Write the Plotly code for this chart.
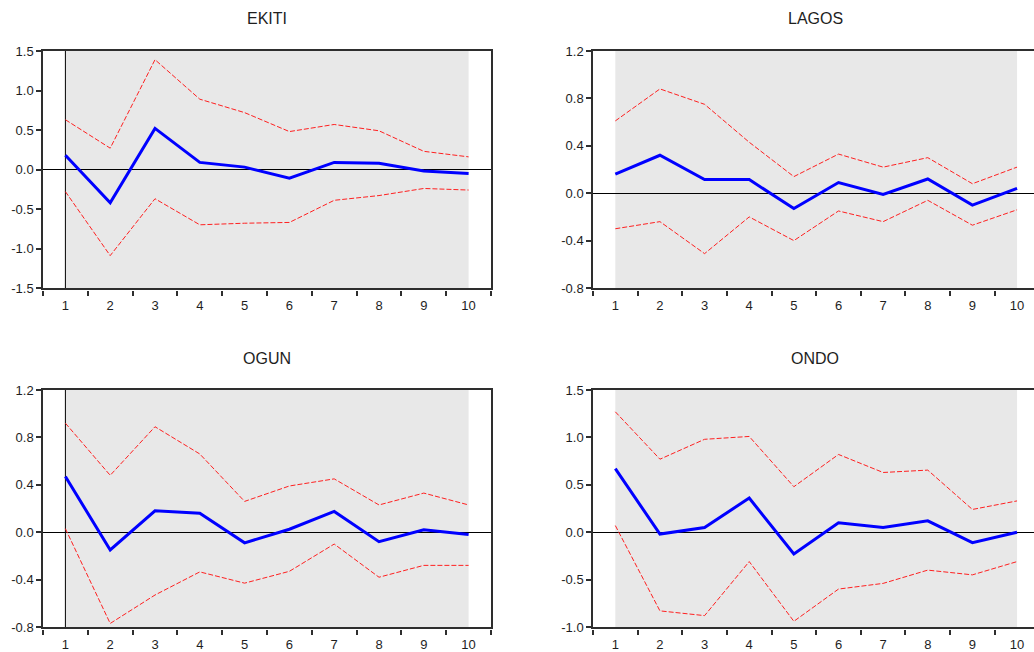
import plotly.graph_objects as go

periods = [1, 2, 3, 4, 5, 6, 7, 8, 9, 10]
panel_titles = ["EKITI", "LAGOS", "OGUN", "ONDO"]

ekiti_resp = [0.18, -0.42, 0.52, 0.09, 0.03, -0.11, 0.09, 0.08, -0.02, -0.05]
ekiti_upper = [0.63, 0.27, 1.39, 0.89, 0.72, 0.48, 0.57, 0.49, 0.23, 0.16]
ekiti_lower = [-0.28, -1.09, -0.37, -0.70, -0.68, -0.67, -0.39, -0.33, -0.24, -0.26]

lagos_resp = [0.16, 0.32, 0.115, 0.115, -0.13, 0.09, -0.01, 0.12, -0.10, 0.04]
lagos_upper = [0.61, 0.88, 0.75, 0.43, 0.14, 0.33, 0.22, 0.30, 0.08, 0.22]
lagos_lower = [-0.30, -0.24, -0.51, -0.20, -0.40, -0.15, -0.24, -0.06, -0.27, -0.14]

ogun_resp = [0.47, -0.15, 0.18, 0.16, -0.09, 0.025, 0.175, -0.08, 0.02, -0.02]
ogun_upper = [0.92, 0.48, 0.89, 0.66, 0.26, 0.39, 0.45, 0.23, 0.33, 0.23]
ogun_lower = [0.03, -0.77, -0.53, -0.335, -0.43, -0.33, -0.10, -0.38, -0.28, -0.28]

ondo_resp = [0.67, -0.02, 0.05, 0.36, -0.23, 0.10, 0.05, 0.12, -0.11, 0.0]
ondo_upper = [1.27, 0.77, 0.98, 1.01, 0.48, 0.82, 0.63, 0.655, 0.24, 0.33]
ondo_lower = [0.07, -0.83, -0.88, -0.31, -0.94, -0.60, -0.54, -0.40, -0.45, -0.31]

ekiti_yticks = [-1.5, -1.0, -0.5, 0.0, 0.5, 1.0, 1.5]
lagos_yticks = [-0.8, -0.4, 0.0, 0.4, 0.8, 1.2]
ogun_yticks = [-0.8, -0.4, 0.0, 0.4, 0.8, 1.2]
ondo_yticks = [-1.0, -0.5, 0.0, 0.5, 1.0, 1.5]

W, H = 1034, 652

def px(x):
    return x / W

def py(y):
    return 1 - y / H

panels = [
    dict(title=panel_titles[0], resp=ekiti_resp, up=ekiti_upper, lo=ekiti_lower, yt=ekiti_yticks,
         xd=[px(43), px(491)], yb=288, yt_px=51, xr=[0.5, 10.5], vline=True, ty=19),
    dict(title=panel_titles[1], resp=lagos_resp, up=lagos_upper, lo=lagos_lower, yt=lagos_yticks,
         xd=[px(593), 1.0], yb=288, yt_px=51, xr=[0.5, 10.38], vline=False, ty=19),
    dict(title=panel_titles[2], resp=ogun_resp, up=ogun_upper, lo=ogun_lower, yt=ogun_yticks,
         xd=[px(43), px(491)], yb=627, yt_px=390, xr=[0.5, 10.5], vline=True, ty=358),
    dict(title=panel_titles[3], resp=ondo_resp, up=ondo_upper, lo=ondo_lower, yt=ondo_yticks,
         xd=[px(593), 1.0], yb=627, yt_px=390, xr=[0.5, 10.38], vline=False, ty=358),
]

fig = go.Figure()
shapes = []
annotations = []
layout_axes = {}
frame_color = "#2e2e2e"
text_color = "#1e1e1e"
font_family = "Liberation Sans, Arial"
half_ticks = [k + 0.5 for k in range(0, 11)]

for i, p in enumerate(panels):
    n = i + 1
    xa = "x" if n == 1 else f"x{n}"
    ya = "y" if n == 1 else f"y{n}"
    xt = f"x{n + 4}"
    for ser in (p["up"], p["lo"]):
        fig.add_trace(go.Scatter(x=periods, y=ser, mode="lines", xaxis=xa, yaxis=ya,
                                 line=dict(color="#ff2020", width=1, dash="5px,2px"),
                                 showlegend=False, hoverinfo="skip"))
    fig.add_trace(go.Scatter(x=periods, y=p["resp"], mode="lines", xaxis=xa, yaxis=ya,
                             line=dict(color="#0000ff", width=3),
                             showlegend=False))
    # empty trace so the tick-only overlay axis gets drawn
    fig.add_trace(go.Scatter(x=[], y=[], mode="lines", xaxis=xt, yaxis=ya,
                             showlegend=False, hoverinfo="skip"))
    yr = [p["yt"][0], p["yt"][-1]]
    layout_axes["xaxis" if n == 1 else f"xaxis{n}"] = dict(
        domain=p["xd"], range=p["xr"], anchor=ya, automargin=False,
        tickmode="array", tickvals=periods, ticktext=[str(v) for v in periods],
        ticks="", ticklabelstandoff=5,
        showgrid=False, zeroline=False,
        showline=True, mirror=True, linecolor=frame_color, linewidth=1.5,
        tickfont=dict(family=font_family, size=13, color=text_color),
    )
    layout_axes[f"xaxis{n + 4}"] = dict(
        domain=p["xd"], range=p["xr"], overlaying=xa, anchor="free",
        position=py(p["yb"] + 2), side="bottom", automargin=False,
        tickmode="array", tickvals=half_ticks, ticktext=["" for _ in half_ticks],
        ticks="outside", ticklen=5, tickwidth=1.5, tickcolor=frame_color,
        showgrid=False, zeroline=False, showline=False,
    )
    layout_axes["yaxis" if n == 1 else f"yaxis{n}"] = dict(
        domain=[py(p["yb"]), py(p["yt_px"])], range=yr, anchor=xa, automargin=False,
        tickmode="array", tickvals=p["yt"], ticktext=[f"{v:.1f}" for v in p["yt"]],
        ticks="outside", ticklen=5, tickwidth=1.5, tickcolor=frame_color,
        showgrid=False, zeroline=True, zerolinecolor="#000000", zerolinewidth=1,
        showline=True, mirror=True, linecolor=frame_color, linewidth=1.5,
        tickfont=dict(family=font_family, size=13, color=text_color),
    )
    shapes.append(dict(type="rect", xref=xa, yref=f"{ya} domain", x0=1, x1=10, y0=0, y1=1,
                       fillcolor="#e8e8e8", line=dict(width=0), layer="below"))
    if p["vline"]:
        shapes.append(dict(type="line", xref=xa, yref=f"{ya} domain", x0=1, x1=1, y0=0, y1=1,
                           line=dict(color="#000000", width=1), layer="below"))
    xc = 267 if p["xd"][0] < 0.3 else 815
    annotations.append(dict(text=p["title"], x=px(xc), y=py(p["ty"]), xref="paper", yref="paper",
                            showarrow=False, xanchor="center", yanchor="middle",
                            font=dict(family=font_family, size=16, color=text_color)))

fig.update_layout(
    template="none",
    width=W, height=H,
    margin=dict(l=0, r=0, t=0, b=0, autoexpand=False),
    paper_bgcolor="white", plot_bgcolor="white",
    shapes=shapes, annotations=annotations,
    **layout_axes,
)

fig.write_html("out.html", config={"displayModeBar": False},
               post_script="document.body.style.margin='0';document.body.style.overflow='hidden';")
